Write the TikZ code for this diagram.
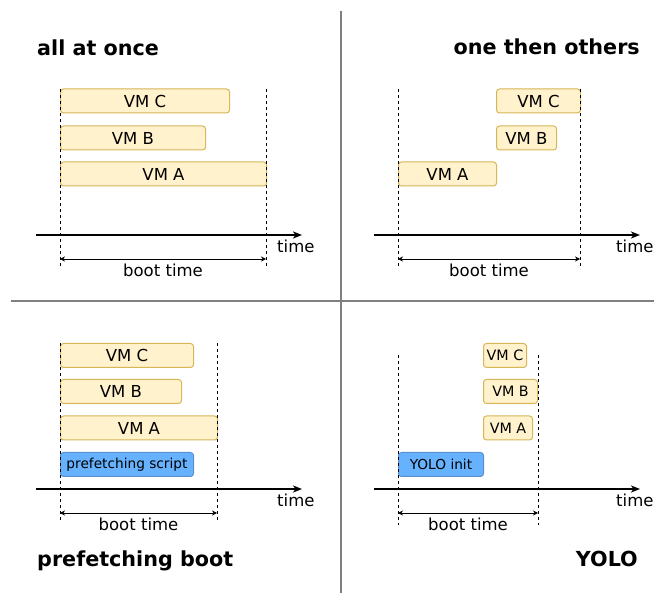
\documentclass[tikz,border=0pt]{standalone}
\usepackage{fontspec}
\setmainfont{DejaVu Sans}
\usetikzlibrary{arrows.meta}

\definecolor{vmfill}{HTML}{FFF2CC}
\definecolor{vmline}{HTML}{D6B656}
\definecolor{initfill}{HTML}{66B2FF}
\definecolor{initline}{HTML}{5A8FD0}
\definecolor{divider}{HTML}{808080}

\begin{document}
\begin{tikzpicture}[x=1pt, y=-1pt,
        vm/.style={draw=vmline, fill=vmfill, line width=1pt, rounded corners=3pt,
            minimum height=24pt, inner sep=0pt, anchor=west,
            font=\fontsize{16.5}{18}\selectfont},
        vmsmall/.style={vm, font=\fontsize{14.3}{16}\selectfont},
        init/.style={vm, draw=initline, fill=initfill, font=\fontsize{13.7}{15}\selectfont},
        title/.style={inner sep=0pt, font=\fontsize{20.7}{24}\selectfont\bfseries},
        label/.style={inner sep=0pt, font=\fontsize{16.5}{18}\selectfont},
        guide/.style={line width=1pt, dash pattern=on 3pt off 3pt},
        axis/.style={line width=1.6pt, -{Stealth[length=9pt, width=7pt, inset=2.5pt]}},
        span/.style={line width=0.8pt, {Stealth[length=5pt, width=5pt]}-{Stealth[length=5pt, width=5pt]}}]
    \useasboundingbox (0,0) rectangle (654,593);

    % quadrant borders
    \coordinate (d-top) at (341,11);
    \coordinate (d-bot) at (341,593);
    \coordinate (d-left) at (11,301);
    \coordinate (d-right) at (654,301);
    \draw[divider, line width=1.3pt] (d-top) -- (d-bot);
    \draw[divider, line width=1.3pt] (d-left) -- (d-right);

    % all at once
    \node[title, anchor=base west] (ac-title) at (37,56) {all at once};
    \node[vm, minimum width=169pt] (ac-c) at (60,101) {VM C};
    \node[vm, minimum width=145pt] (ac-b) at (60,138) {VM B};
    \node[vm, minimum width=206pt] (ac-a) at (60,174) {VM A};
    \coordinate (ac-s0) at (60,89);
    \coordinate (ac-s1) at (60,267);
    \coordinate (ac-e0) at (266,89);
    \coordinate (ac-e1) at (266,267);
    \draw[guide] (ac-s0) -- (ac-s1);
    \draw[guide] (ac-e0) -- (ac-e1);
    \coordinate (ac-t0) at (36,235);
    \coordinate (ac-t1) at (302,235);
    \draw[axis] (ac-t0) -- (ac-t1);
    \node[label, anchor=base west] (ac-time) at (277,253) {time};
    \coordinate (ac-b0) at (60,259);
    \coordinate (ac-b1) at (266,259);
    \draw[span] (ac-b0) -- node[label, below=4.5pt] (ac-boot) {boot time} (ac-b1);

    % one then others
    \node[title, anchor=base east] (ot-title) at (640,55) {one then others};
    \node[vm, minimum width=84pt] (ot-c) at (496,101) {VM C};
    \node[vm, minimum width=60pt] (ot-b) at (496,138) {VM B};
    \node[vm, minimum width=98pt] (ot-a) at (398,174) {VM A};
    \coordinate (ot-s0) at (398,89);
    \coordinate (ot-s1) at (398,267);
    \coordinate (ot-e0) at (580,89);
    \coordinate (ot-e1) at (580,269);
    \draw[guide] (ot-s0) -- (ot-s1);
    \draw[guide] (ot-e0) -- (ot-e1);
    \coordinate (ot-t0) at (374,235);
    \coordinate (ot-t1) at (640,235);
    \draw[axis] (ot-t0) -- (ot-t1);
    \node[label, anchor=base west] (ot-time) at (616,253) {time};
    \coordinate (ot-b0) at (398,259);
    \coordinate (ot-b1) at (580,259);
    \draw[span] (ot-b0) -- node[label, below=4.5pt] (ot-boot) {boot time} (ot-b1);

    % prefetching boot
    \node[title, anchor=base west] (pf-title) at (37,567) {prefetching boot};
    \node[vm, minimum width=133pt] (pf-c) at (60,355.5) {VM C};
    \node[vm, minimum width=121pt] (pf-b) at (60,391.5) {VM B};
    \node[vm, minimum width=157pt] (pf-a) at (60,428) {VM A};
    \node[init, minimum width=133pt] (pf-script) at (60,464.5) {prefetching script};
    \coordinate (pf-s0) at (60,343);
    \coordinate (pf-s1) at (60,522);
    \coordinate (pf-e0) at (217,343);
    \coordinate (pf-e1) at (217,522);
    \draw[guide] (pf-s0) -- (pf-s1);
    \draw[guide] (pf-e0) -- (pf-e1);
    \coordinate (pf-t0) at (36,489);
    \coordinate (pf-t1) at (302,489);
    \draw[axis] (pf-t0) -- (pf-t1);
    \node[label, anchor=base west] (pf-time) at (277,507) {time};
    \coordinate (pf-b0) at (60,513);
    \coordinate (pf-b1) at (217,513);
    \draw[span] (pf-b0) -- node[label, below=4.5pt] (pf-boot) {boot time} (pf-b1);

    % YOLO
    \node[title, anchor=base east] (yo-title) at (638,567) {YOLO};
    \node[vmsmall, minimum width=43pt] (yo-c) at (483,355.5) {VM C};
    \node[vmsmall, minimum width=54pt] (yo-b) at (483,391.5) {VM B};
    \node[vmsmall, minimum width=49pt] (yo-a) at (483,428) {VM A};
    \node[init, minimum width=85pt] (yo-init) at (398,464.5) {YOLO init};
    \coordinate (yo-s0) at (398,355);
    \coordinate (yo-s1) at (398,525);
    \coordinate (yo-e0) at (538,355);
    \coordinate (yo-e1) at (538,525);
    \draw[guide] (yo-s0) -- (yo-s1);
    \draw[guide] (yo-e0) -- (yo-e1);
    \coordinate (yo-t0) at (374,489);
    \coordinate (yo-t1) at (640,489);
    \draw[axis] (yo-t0) -- (yo-t1);
    \node[label, anchor=base west] (yo-time) at (616,507) {time};
    \coordinate (yo-b0) at (398,513);
    \coordinate (yo-b1) at (538,513);
    \draw[span] (yo-b0) -- node[label, below=4.5pt] (yo-boot) {boot time} (yo-b1);
\end{tikzpicture}
\end{document}
